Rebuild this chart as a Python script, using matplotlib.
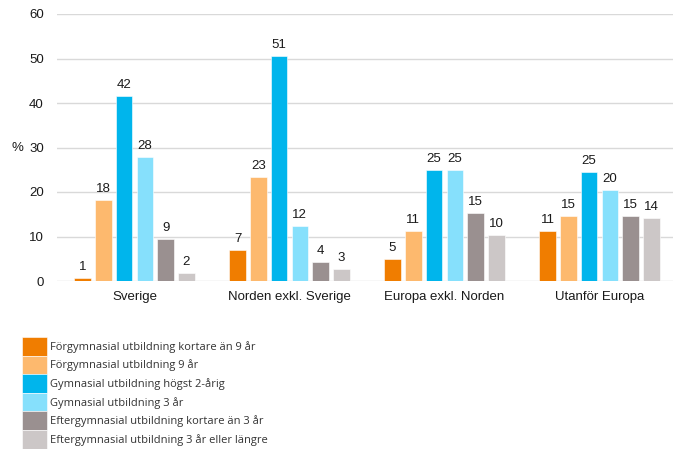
import numpy as np
import matplotlib
matplotlib.use("Agg")
import matplotlib.pyplot as plt

plt.rcParams['font.family'] = ['Liberation Sans', 'DejaVu Sans']

# Regioner (x-axel)
regioner = ['Sverige', 'Norden exkl. Sverige', 'Europa exkl. Norden', 'Utanför Europa']

# Utbildningsnivåer (serier)
serier = [
    'Förgymnasial utbildning kortare än 9 år',
    'Förgymnasial utbildning 9 år',
    'Gymnasial utbildning högst 2-årig',
    'Gymnasial utbildning 3 år',
    'Eftergymnasial utbildning kortare än 3 år',
    'Eftergymnasial utbildning 3 år eller längre',
]

# Andel i procent per region (avlästa stapelhöjder)
fg_kort = [0.7, 6.9, 4.9, 11.2]
fg_9 = [18.2, 23.3, 11.2, 14.6]
gy_2 = [41.6, 50.6, 24.9, 24.5]
gy_3 = [27.9, 12.4, 24.9, 20.4]
eg_kort = [9.5, 4.2, 15.3, 14.6]
eg_3 = [1.9, 2.8, 10.3, 14.1]

# Etiketter som de står i diagrammet
etiketter = [
    [1, 7, 5, 11],
    [18, 23, 11, 15],
    [42, 51, 25, 25],
    [28, 12, 25, 20],
    [9, 4, 15, 15],
    [2, 3, 10, 14],
]

farger = ['#F07D00', '#FDB96E', '#00B5EC', '#86E0FC', '#9A9090', '#CCC7C7']

varden = [fg_kort, fg_9, gy_2, gy_3, eg_kort, eg_3]

fig = plt.figure(figsize=(6.73, 4.49), dpi=100)
ax = fig.add_axes([57 / 673, 1 - 281 / 449, 620 / 673, 267 / 449])

x = np.arange(len(regioner))
bredd = 0.108
steg = 0.134

for j, (v, f, namn) in enumerate(zip(varden, farger, serier)):
    pos = x + (j - 2.5) * steg
    bars = ax.bar(pos, v, width=bredd, color=f, label=namn,
                  edgecolor='white', linewidth=0.4, zorder=3)
    for b, lab in zip(bars, etiketter[j]):
        ax.annotate(str(lab), (b.get_x() + b.get_width() / 2, b.get_height()),
                    xytext=(0, 3.5), textcoords='offset points',
                    ha='center', va='bottom', fontsize=9.5, color='#1a1a1a')

ax.set_ylim(0, 60)
ax.set_xlim(-0.5, 3.5)
ax.set_yticks(range(0, 61, 10))
ax.set_xticks(x)
ax.set_xticklabels(regioner)
ax.tick_params(axis='both', length=0, labelsize=9.5, colors='#1a1a1a')
ax.tick_params(axis='y', pad=9.5)
ax.tick_params(axis='x', pad=7.5)
ax.grid(axis='y', color='#D9D9D9', linewidth=1, zorder=0)
for s in ax.spines.values():
    s.set_visible(False)

fig.text(12 / 673, 1 - 148 / 449, '%', fontsize=9.5, va='center', ha='left', color='#1a1a1a')

handles, labels = ax.get_legend_handles_labels()
fig.legend(handles, labels, loc='upper left', bbox_to_anchor=(22 / 673, 1 - 337 / 449),
           frameon=False, borderpad=0, borderaxespad=0, labelspacing=0,
           handlelength=2.25, handleheight=2.2, handletextpad=0.3,
           prop={'family': 'Open Sans', 'size': 8}, labelcolor='#333333')

fig.savefig('out.png', dpi=100)
